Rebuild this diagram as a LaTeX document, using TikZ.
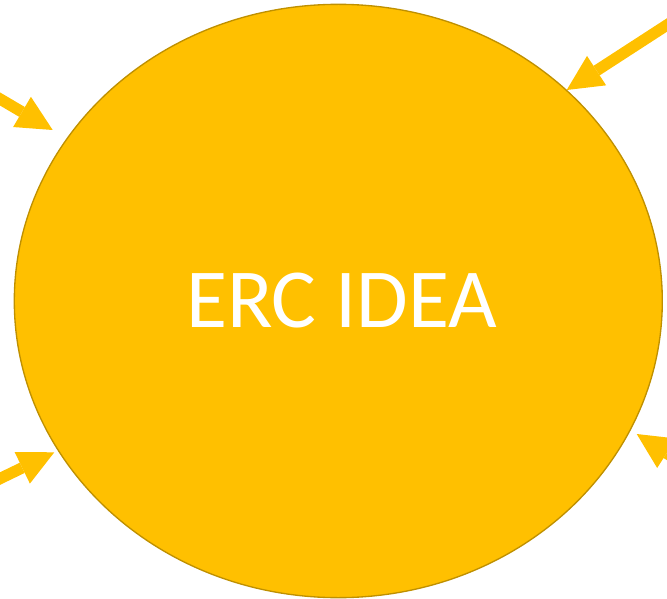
\documentclass[tikz,border=0pt]{standalone}
\usepackage{fontspec}
\setmainfont{Carlito}
\usetikzlibrary{arrows.meta,shapes.geometric}
\definecolor{ideagold}{RGB}{255,192,0}
\definecolor{ideaedge}{RGB}{191,144,0}

\begin{document}
\begin{tikzpicture}[x=0.75pt,y=0.75pt,yscale=-1,xscale=1]
\tikzset{feed/.style={draw=ideagold, line width=8.5pt, -{Triangle[length=26.7pt,width=26.3pt,line width=0pt]}}}
%set diagram size 667 x 599
\clip (0,0) rectangle (667,599);

%Shape: Ellipse [id:idea]
\node[ellipse, draw=ideaedge, fill=ideagold, line width=1pt, minimum width=486pt, minimum height=445pt, inner sep=0pt, text=white, font=\fontsize{63}{76}\selectfont] (idea) at (338.3,301) {\hspace*{5pt}ERC IDEA};

%Arrows pointing in
\coordinate (tlStart) at (-24.9,84.3);
\coordinate (tlTip) at (52.7,130);
\draw [feed] (tlStart) -- (tlTip);

\coordinate (trStart) at (700.9,3);
\coordinate (trTip) at (566.7,90);
\draw [feed] (trStart) -- (trTip);

\coordinate (blStart) at (-26.7,491.5);
\coordinate (blTip) at (54.3,452.3);
\draw [feed] (blStart) -- (blTip);

\coordinate (brStart) at (720.7,488);
\coordinate (brTip) at (636.7,434);
\draw [feed] (brStart) -- (brTip);

\end{tikzpicture}
\end{document}
